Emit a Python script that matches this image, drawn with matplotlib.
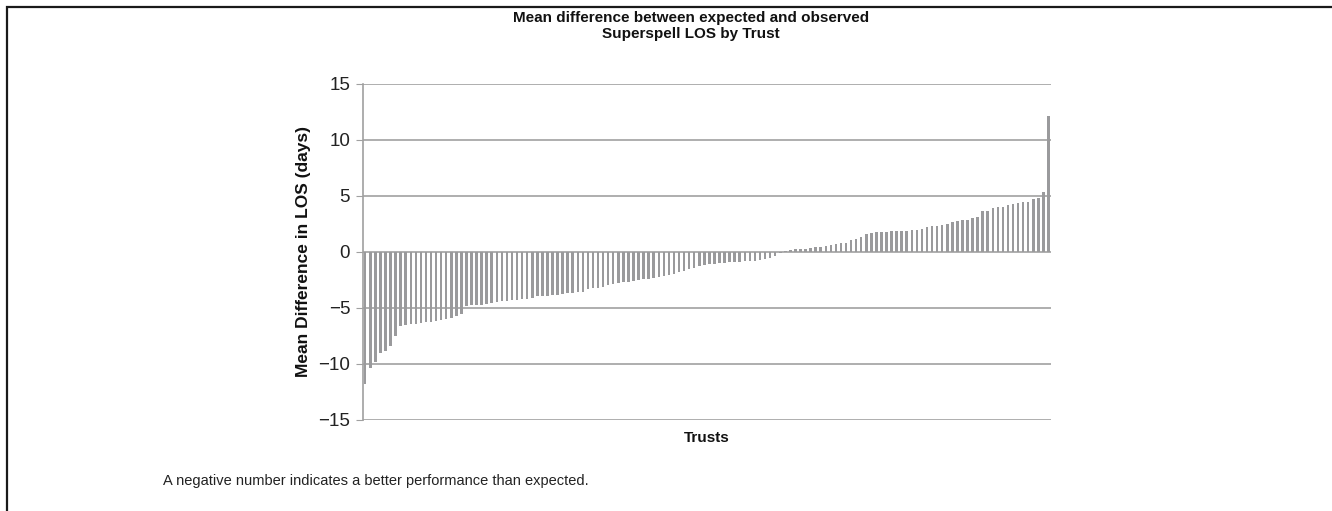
import matplotlib
matplotlib.use("Agg")
import matplotlib.pyplot as plt
from matplotlib.patches import Rectangle

plt.rcParams['font.family'] = ['Liberation Sans', 'DejaVu Sans']

title = "Mean difference between expected and observed\nSuperspell LOS by Trust"
y_label = "Mean Difference in LOS (days)"
x_label = "Trusts"
note = "A negative number indicates a better performance than expected."
y_ticks = [-15, -10, -5, 0, 5, 10, 15]
y_tick_labels = ["\u221215", "\u221210", "\u22125", "0", "5", "10", "15"]

mean_diff = [
    -11.85, -10.36, -9.82, -9.02, -8.84, -8.39, -7.50, -6.64, -6.55, -6.49,
    -6.43, -6.34, -6.25, -6.25, -6.16, -6.10, -6.01, -5.89, -5.74, -5.54,
    -4.85, -4.79, -4.76, -4.74, -4.70, -4.60, -4.50, -4.43, -4.37, -4.32,
    -4.28, -4.22, -4.20, -4.10, -3.98, -3.96, -3.95, -3.87, -3.84, -3.75,
    -3.68, -3.66, -3.64, -3.57, -3.36, -3.27, -3.21, -3.13, -3.01, -2.89,
    -2.77, -2.72, -2.68, -2.60, -2.53, -2.47, -2.41, -2.36, -2.23, -2.20,
    -2.08, -2.00, -1.84, -1.70, -1.55, -1.45, -1.30, -1.19, -1.12, -1.10,
    -1.04, -0.98, -0.96, -0.92, -0.90, -0.86, -0.84, -0.81, -0.72, -0.66,
    -0.60, -0.42, -0.12, 0.05, 0.12, 0.20, 0.24, 0.26, 0.36, 0.42,
    0.43, 0.51, 0.60, 0.66, 0.80, 0.82, 1.07, 1.10, 1.34, 1.60,
    1.70, 1.72, 1.79, 1.80, 1.86, 1.87, 1.88, 1.89, 1.90, 1.96,
    2.05, 2.20, 2.32, 2.33, 2.34, 2.50, 2.68, 2.77, 2.86, 2.87,
    3.04, 3.13, 3.60, 3.62, 3.93, 3.95, 4.02, 4.20, 4.22, 4.38,
    4.40, 4.47, 4.70, 4.80, 5.30, 12.10,
]
trusts = list(range(1, len(mean_diff) + 1))

W, H = 1332, 511
fig = plt.figure(figsize=(W / 100, H / 100), dpi=100)

# outer frame
fig.patches.append(Rectangle((7 / W, -0.05), 1.2, 1 - 7 / H + 0.05, transform=fig.transFigure,
                             fill=False, edgecolor="#1a1a1a", linewidth=1.6, clip_on=False))

left, right = 362.7 / W, 1051 / W
bottom, top = 1 - 419.7 / H, 1 - 83.7 / H
ax = fig.add_axes([left, bottom, right - left, top - bottom])

ax.bar(trusts, mean_diff, width=0.5, color="#9a9a9c", zorder=3)
ax.set_xlim(0.5, len(mean_diff) + 0.5)
ax.set_ylim(-15, 15)
ax.set_yticks(y_ticks)
ax.set_yticklabels(y_tick_labels, fontsize=13.5, color="#222222")
ax.set_xticks([])
ax.grid(axis="y", color="#a8a8a8", linewidth=1.3, zorder=0)
for s in ["top", "right", "bottom"]:
    ax.spines[s].set_visible(False)
ax.spines["left"].set_color("#a0a0a0")
ax.spines["left"].set_linewidth(1.2)
ax.tick_params(axis="y", length=5, color="#a0a0a0", pad=4)

ax.set_ylabel(y_label, fontsize=12.5, fontweight="bold", color="#111111", labelpad=5)
ax.set_xlabel(x_label, fontsize=11, fontweight="bold", color="#111111", labelpad=8)

fig.text(0.5185, 1 - 11 / H, title, ha="center", va="top", fontsize=11,
         fontweight="bold", color="#111111", linespacing=1.2)
fig.text(163 / W, 1 - 481 / H, note, ha="left", va="center", fontsize=10.5, color="#222222")

fig.savefig("out.png", dpi=100)
